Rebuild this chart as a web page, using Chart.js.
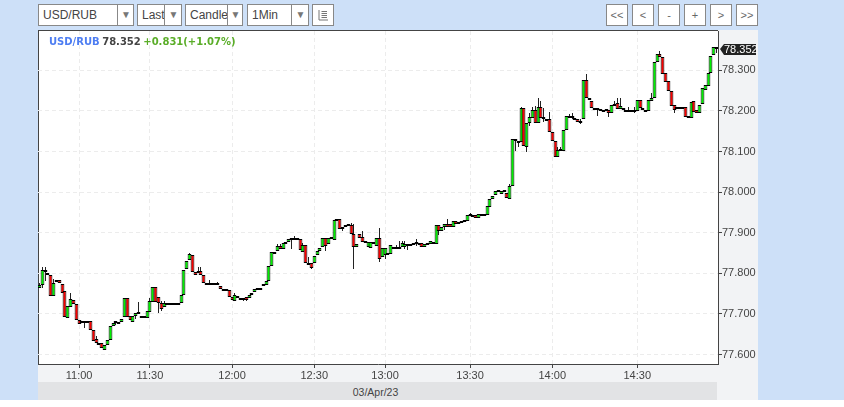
<!DOCTYPE html>
<html>
<head>
<meta charset="utf-8">
<title>USD/RUB</title>
<script src="https://cdn.jsdelivr.net/npm/chart.js@4/dist/chart.umd.min.js"></script>
<style>
  html, body { margin: 0; padding: 0; width: 844px; height: 407px; overflow: hidden; background: #fff; font-family: "Liberation Sans", Arial, sans-serif; }
  #page { position: absolute; left: 0; top: 0; width: 844px; height: 400px; background: #cde0f8; }
  .panel { position: absolute; background: #f2f3f5; }
  .box { position: absolute; top: 4px; height: 20px; border: 1px solid #888; background: #fff; color: #444; font-size: 12px; line-height: 20px; overflow: hidden; white-space: nowrap; box-sizing: content-box; }
  .box span { position: absolute; left: 4px; top: 0; }
  .box i { position: absolute; top: 0; bottom: 0; border-left: 1px solid #888; background: #fff; color: #777; font-style: normal; font-size: 10px; text-align: center; }
  .btn { position: absolute; top: 4px; width: 20px; height: 20px; border: 1px solid #888; background: #fff; color: #666; font-size: 11px; line-height: 20px; text-align: center; }
  #plot { position: absolute; left: 38px; top: 30px; width: 680px; height: 334px; background: #fff; border-left: 1px solid #444; border-top: 1px solid #444; box-sizing: border-box; }
  #band { position: absolute; left: 38px; top: 382px; width: 679px; height: 18px; background: #e2e3e5; color: #444; font-size: 10.5px; line-height: 20px; text-align: center; text-indent: -4px; }
  #info { position: absolute; left: 49px; top: 36px; font: bold 10px "DejaVu Sans", sans-serif; word-spacing: -1px; white-space: nowrap; color: #444; }
  #chart { position: absolute; left: 38px; top: 30px; }
</style>
</head>
<body>
<div id="page">
  <div class="panel" style="left:38px;top:30px;width:720px;height:370px"></div>
  <div id="plot"></div>
  <div id="band">03/Apr/23</div>

  <div class="box" style="left:38px;width:94px"><span>USD/RUB</span><i style="left:78px;width:16px">▼</i></div>
  <div class="box" style="left:137px;width:43px"><span>Last</span><i style="left:26px;width:17px">▼</i></div>
  <div class="box" style="left:185px;width:56px"><span>Candle</span><i style="left:41px;width:15px">▼</i></div>
  <div class="box" style="left:247px;width:60px"><span>1Min</span><i style="left:43px;width:17px">▼</i></div>
  <div class="box" style="left:312px;width:20px">
    <svg width="20" height="20" style="position:absolute;left:0;top:0"><path d="M6 5V15H15M8.5 6.5H14M8.5 8.5H14M8.5 10.5H14M8.5 12.5H14" fill="none" stroke="#777" stroke-width="1"/></svg>
  </div>

  <div class="btn" style="left:606px">&lt;&lt;</div>
  <div class="btn" style="left:632px">&lt;</div>
  <div class="btn" style="left:658px">-</div>
  <div class="btn" style="left:684px">+</div>
  <div class="btn" style="left:710px">&gt;</div>
  <div class="btn" style="left:736px">&gt;&gt;</div>

  <canvas id="chart" width="720" height="370"></canvas>
  <div id="info"><span style="color:#4d7df2">USD/RUB</span> 78.352 <span style="color:#5aad28">+0.831(+1.07%)</span></div>
</div>
<script>
const opens = [
  77.763,77.771,77.808,77.801,77.796,77.745,77.779,77.783,77.774,77.756,
  77.690,77.718,77.734,77.724,77.685,77.677,77.677,77.677,77.682,77.660,
  77.638,77.628,77.628,77.612,77.623,77.635,77.671,77.677,77.678,77.679,
  77.692,77.738,77.696,77.681,77.695,77.701,77.696,77.691,77.691,77.705,
  77.730,77.766,77.741,77.726,77.718,77.724,77.724,77.724,77.724,77.724,
  77.728,77.747,77.811,77.833,77.844,77.803,77.803,77.806,77.797,77.777,
  77.771,77.771,77.771,77.771,77.769,77.759,77.758,77.760,77.742,77.733,
  77.743,77.740,77.735,77.742,77.739,77.747,77.753,77.761,77.761,77.768,
  77.772,77.782,77.817,77.849,77.854,77.867,77.859,77.873,77.876,77.883,
  77.883,77.883,77.885,77.852,77.869,77.823,77.825,77.825,77.846,77.854,
  77.865,77.886,77.871,77.885,77.882,77.930,77.933,77.910,77.918,77.921,
  77.918,77.898,77.866,77.896,77.889,77.879,77.864,77.862,77.874,77.868,
  77.886,77.839,77.845,77.845,77.847,77.866,77.862,77.862,77.864,77.866,
  77.869,77.869,77.871,77.872,77.871,77.874,77.866,77.871,77.873,77.873,
  77.873,77.918,77.903,77.913,77.921,77.921,77.913,77.928,77.922,77.923,
  77.928,77.930,77.942,77.944,77.943,77.935,77.942,77.942,77.943,77.964,
  77.984,77.992,78.001,77.996,78.001,77.999,77.983,78.016,78.132,78.127,
  78.124,78.206,78.112,78.169,78.182,78.201,78.169,78.210,78.184,78.181,
  78.179,78.147,78.125,78.086,78.101,78.101,78.152,78.185,78.188,78.183,
  78.181,78.173,78.179,78.276,78.231,78.224,78.207,78.204,78.204,78.200,
  78.201,78.201,78.196,78.214,78.219,78.204,78.208,78.201,78.200,78.200,
  78.200,78.199,78.228,78.206,78.201,78.199,78.225,78.232,78.321,78.339,
  78.332,78.293,78.273,78.250,78.214,78.206,78.206,78.206,78.209,78.187,
  78.183,78.224,78.201,78.196,78.216,78.251,78.261,78.294,78.338,78.357
];
const highs = [
  77.775,77.816,77.816,77.801,77.796,77.785,77.784,77.783,77.774,77.756,
  77.719,77.752,77.734,77.724,77.685,77.682,77.682,77.682,77.682,77.660,
  77.646,77.628,77.628,77.623,77.635,77.669,77.677,77.682,77.681,77.687,
  77.738,77.738,77.696,77.694,77.701,77.730,77.696,77.695,77.706,77.738,
  77.766,77.766,77.741,77.732,77.732,77.728,77.728,77.728,77.728,77.728,
  77.746,77.807,77.831,77.851,77.844,77.803,77.815,77.815,77.797,77.777,
  77.783,77.776,77.776,77.778,77.769,77.762,77.761,77.760,77.742,77.751,
  77.743,77.740,77.739,77.742,77.746,77.752,77.761,77.765,77.765,77.773,
  77.780,77.817,77.852,77.853,77.871,77.871,77.874,77.877,77.885,77.887,
  77.892,77.887,77.885,77.874,77.869,77.841,77.825,77.843,77.854,77.863,
  77.886,77.886,77.886,77.889,77.931,77.933,77.933,77.915,77.918,77.921,
  77.923,77.921,77.872,77.896,77.905,77.879,77.876,77.876,77.877,77.886,
  77.911,77.862,77.862,77.849,77.869,77.866,77.869,77.880,77.880,77.880,
  77.873,77.873,77.875,77.884,77.875,77.874,77.873,77.875,77.879,77.876,
  77.918,77.918,77.913,77.921,77.933,77.921,77.928,77.928,77.926,77.928,
  77.932,77.943,77.949,77.944,77.943,77.945,77.945,77.945,77.966,77.982,
  77.991,78.003,78.005,78.002,78.004,77.999,78.021,78.132,78.132,78.127,
  78.209,78.206,78.169,78.196,78.210,78.212,78.233,78.225,78.208,78.181,
  78.198,78.147,78.125,78.110,78.110,78.152,78.187,78.193,78.194,78.183,
  78.181,78.179,78.275,78.290,78.231,78.224,78.207,78.207,78.204,78.203,
  78.204,78.201,78.214,78.224,78.231,78.231,78.208,78.201,78.210,78.203,
  78.210,78.226,78.228,78.206,78.201,78.227,78.243,78.320,78.340,78.348,
  78.332,78.293,78.273,78.250,78.214,78.210,78.210,78.210,78.209,78.187,
  78.221,78.224,78.201,78.214,78.256,78.263,78.293,78.336,78.357,78.357
];
const lows = [
  77.763,77.763,77.781,77.797,77.745,77.745,77.779,77.775,77.752,77.693,
  77.690,77.718,77.724,77.685,77.676,77.677,77.666,77.677,77.660,77.634,
  77.629,77.623,77.615,77.612,77.623,77.635,77.671,77.672,77.678,77.679,
  77.692,77.693,77.684,77.681,77.687,77.701,77.691,77.691,77.691,77.705,
  77.730,77.730,77.701,77.706,77.718,77.724,77.724,77.724,77.724,77.724,
  77.728,77.747,77.811,77.833,77.804,77.795,77.803,77.797,77.777,77.771,
  77.771,77.771,77.771,77.771,77.761,77.759,77.758,77.742,77.735,77.733,
  77.739,77.736,77.733,77.733,77.739,77.747,77.753,77.761,77.761,77.768,
  77.772,77.782,77.817,77.849,77.854,77.859,77.859,77.873,77.876,77.859,
  77.883,77.883,77.857,77.852,77.825,77.823,77.810,77.825,77.846,77.854,
  77.865,77.856,77.871,77.885,77.882,77.930,77.908,77.904,77.913,77.917,
  77.898,77.810,77.866,77.888,77.877,77.874,77.864,77.862,77.874,77.868,
  77.829,77.839,77.834,77.845,77.847,77.862,77.860,77.860,77.864,77.859,
  77.857,77.869,77.871,77.867,77.871,77.866,77.866,77.871,77.873,77.873,
  77.873,77.894,77.903,77.907,77.913,77.913,77.913,77.921,77.922,77.923,
  77.928,77.930,77.942,77.941,77.935,77.935,77.942,77.942,77.943,77.964,
  77.984,77.992,78.001,77.996,78.001,77.985,77.983,78.016,78.102,78.112,
  78.124,78.113,78.100,78.163,78.182,78.169,78.169,78.182,78.173,78.178,
  78.147,78.127,78.087,78.086,78.101,78.101,78.152,78.185,78.179,78.179,
  78.173,78.168,78.179,78.231,78.227,78.208,78.204,78.188,78.200,78.200,
  78.201,78.186,78.196,78.214,78.204,78.204,78.201,78.197,78.200,78.200,
  78.194,78.199,78.206,78.201,78.198,78.199,78.225,78.232,78.321,78.332,
  78.290,78.272,78.250,78.213,78.194,78.206,78.206,78.206,78.186,78.183,
  78.183,78.198,78.196,78.196,78.216,78.251,78.261,78.294,78.338,78.342
];
const closes = [
  77.771,77.808,77.802,77.797,77.745,77.777,77.784,77.775,77.752,77.693,
  77.719,77.736,77.724,77.685,77.676,77.682,77.682,77.682,77.660,77.634,
  77.629,77.623,77.615,77.623,77.635,77.669,77.677,77.682,77.681,77.687,
  77.738,77.693,77.684,77.694,77.701,77.704,77.691,77.695,77.706,77.732,
  77.766,77.730,77.728,77.713,77.728,77.728,77.728,77.728,77.728,77.728,
  77.746,77.807,77.831,77.847,77.804,77.797,77.806,77.797,77.777,77.771,
  77.776,77.776,77.776,77.776,77.761,77.762,77.761,77.742,77.735,77.746,
  77.739,77.736,77.739,77.735,77.746,77.752,77.761,77.765,77.765,77.773,
  77.780,77.817,77.852,77.853,77.867,77.859,77.874,77.877,77.885,77.887,
  77.887,77.887,77.857,77.869,77.825,77.826,77.812,77.843,77.854,77.863,
  77.886,77.867,77.886,77.889,77.931,77.933,77.908,77.915,77.913,77.917,
  77.898,77.864,77.872,77.888,77.877,77.874,77.876,77.876,77.877,77.886,
  77.836,77.862,77.862,77.849,77.869,77.862,77.866,77.866,77.874,77.873,
  77.873,77.873,77.875,77.876,77.875,77.866,77.873,77.875,77.879,77.876,
  77.918,77.903,77.913,77.921,77.913,77.913,77.928,77.921,77.926,77.928,
  77.932,77.943,77.945,77.941,77.935,77.945,77.945,77.945,77.966,77.982,
  77.991,78.003,78.005,78.002,78.004,77.985,78.014,78.132,78.127,78.123,
  78.206,78.113,78.169,78.184,78.201,78.169,78.210,78.182,78.181,78.178,
  78.147,78.127,78.087,78.103,78.105,78.152,78.187,78.188,78.183,78.179,
  78.173,78.176,78.275,78.231,78.227,78.208,78.204,78.207,78.200,78.203,
  78.204,78.196,78.214,78.218,78.204,78.212,78.201,78.197,78.203,78.203,
  78.203,78.226,78.206,78.201,78.198,78.227,78.233,78.320,78.340,78.332,
  78.290,78.272,78.250,78.213,78.202,78.210,78.210,78.210,78.186,78.183,
  78.221,78.198,78.196,78.214,78.256,78.263,78.293,78.336,78.357,78.352
];

const timeLabels = ['11:00', '11:30', '12:00', '12:30', '13:00', '13:30', '14:00', '14:30'];
const timeIndexes = [14, 39, 68, 97, 122, 152, 181, 211];
const priceTicks = [77.6, 77.7, 77.8, 77.9, 78.0, 78.1, 78.2, 78.3];
const lastPrice = 78.352;

const categories = opens.map((_, i) => {
  const k = timeIndexes.indexOf(i);
  return k >= 0 ? timeLabels[k] : '';
});

const UP = '#00f000';
const DOWN = '#f80000';
const AXIS_FONT = { family: '"Liberation Sans", Arial, sans-serif', size: 11 };

// snap bars to whole pixels so the candles stay crisp like the original
const snapBars = {
  id: 'snapBars',
  afterDatasetsUpdate(chart) {
    chart.data.datasets.forEach((_, d) => {
      chart.getDatasetMeta(d).data.forEach(el => {
        el.x = Math.floor(el.x) + 0.5;
        el.y = Math.round(el.y);
        el.base = Math.round(el.base);
        if (d === 0 && Math.abs(el.base - el.y) < 2) el.base = el.y + 2;
      });
    });
  }
};

// last price flag on the right axis
const priceFlag = {
  id: 'priceFlag',
  afterDraw(chart) {
    const { ctx, scales: { y } } = chart;
    const py = Math.round(y.getPixelForValue(lastPrice));
    const x = y.left + 2;
    ctx.save();
    ctx.fillStyle = '#222';
    ctx.beginPath();
    ctx.moveTo(x, py);
    ctx.lineTo(x + 4, py - 5);
    ctx.lineTo(x + 36, py - 5);
    ctx.lineTo(x + 36, py + 6);
    ctx.lineTo(x + 4, py + 6);
    ctx.closePath();
    ctx.fill();
    ctx.fillStyle = '#fff';
    ctx.font = '11px "Liberation Sans", Arial, sans-serif';
    ctx.textBaseline = 'middle';
    ctx.fillText(lastPrice.toFixed(3), x + 4, py + 0.5);
    ctx.restore();
  }
};

new Chart(document.getElementById('chart'), {
  type: 'bar',
  data: {
    labels: categories,
    datasets: [
      {
        label: 'Body',
        data: opens.map((o, i) => [o, closes[i]]),
        grouped: false,
        categoryPercentage: 1,
        barPercentage: 1.4,
        maxBarThickness: 3.8,
        borderWidth: 1,
        borderSkipped: false,
        inflateAmount: 0,
        borderColor: '#000',
        backgroundColor: opens.map((o, i) => (closes[i] >= o ? UP : DOWN))
      },
      {
        label: 'Wick',
        data: lows.map((l, i) => [l, highs[i]]),
        grouped: false,
        categoryPercentage: 1,
        barPercentage: 1,
        maxBarThickness: 1,
        borderWidth: 0,
        inflateAmount: 0,
        backgroundColor: '#222'
      }
    ]
  },
  options: {
    responsive: false,
    animation: false,
    devicePixelRatio: 1,
    layout: { padding: { top: 1, left: 0, right: 0, bottom: 0 } },
    plugins: { legend: { display: false }, tooltip: { enabled: false } },
    scales: {
      x: {
        grid: { offset: false, color: '#ececec', tickColor: '#444', tickLength: 4, tickBorderDash: [0, 0] },
        border: { color: '#444', dash: [4, 3] },
        ticks: { autoSkip: false, maxRotation: 0, padding: 1, color: '#444', font: AXIS_FONT },
        afterBuildTicks(scale) { scale.ticks = timeIndexes.map(value => ({ value })); },
        afterFit(scale) { scale.height = 36; scale.paddingLeft = 0; scale.paddingRight = 0; }
      },
      y: {
        position: 'right',
        min: 77.5766,
        max: 78.3968,
        grid: { color: '#ececec', tickColor: '#444', tickLength: 4, tickBorderDash: [0, 0] },
        border: { color: '#444', dash: [4, 3] },
        ticks: { padding: 0, color: '#444', font: AXIS_FONT, callback: v => v.toFixed(3) },
        afterBuildTicks(scale) { scale.ticks = priceTicks.map(value => ({ value })); },
        afterFit(scale) { scale.width = 40; scale.paddingTop = 0; scale.paddingBottom = 0; }
      }
    }
  },
  plugins: [snapBars, priceFlag]
});
</script>
</body>
</html>
